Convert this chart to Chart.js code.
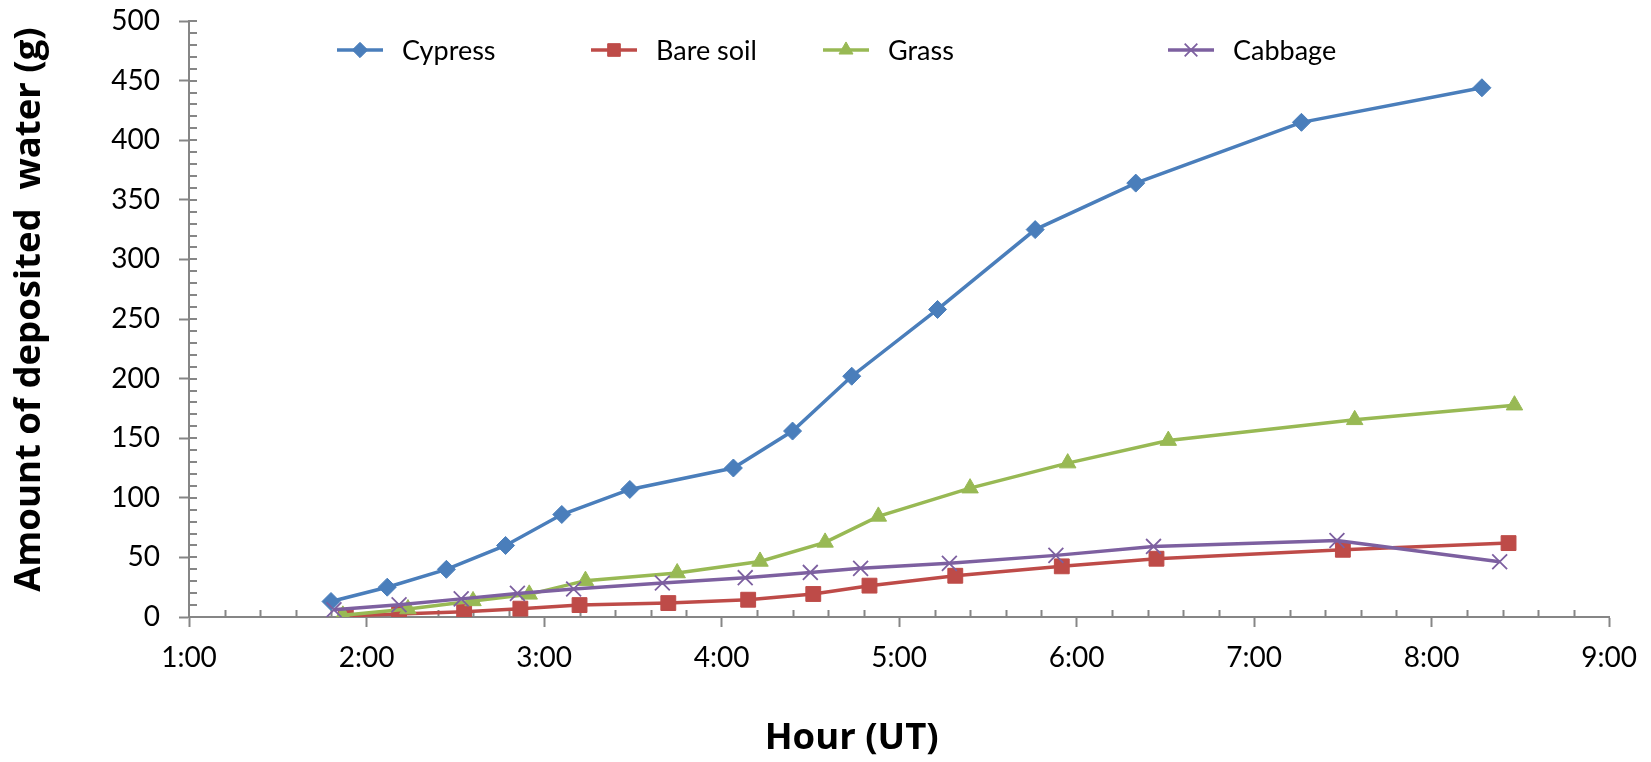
<!DOCTYPE html>
<html>
<head>
<meta charset="utf-8">
<script src="https://cdn.jsdelivr.net/npm/chart.js@4.4.0/dist/chart.umd.min.js"></script>
<style>
  html, body { margin: 0; padding: 0; background: #ffffff; }
</style>
</head>
<body>
<canvas id="grafico" width="1651" height="762"></canvas>
<script>
// datos (hora UT, gramos)
const seriesNames = ["Cypress", "Bare soil", "Grass", "Cabbage"];

const cypressTimes = ["1:48", "2:07", "2:27", "2:47", "3:06", "3:29", "4:04", "4:24", "4:44", "5:13", "5:46", "6:20", "7:16", "8:17"];
const cypressValues = [13, 25, 40, 60, 86, 107, 125, 156, 202, 258, 325, 364, 415, 444];

const bareSoilTimes = ["1:53", "2:11", "2:33", "2:52", "3:12", "3:42", "4:09", "4:31", "4:50", "5:19", "5:55", "6:27", "7:30", "8:26"];
const bareSoilValues = [1, 2.5, 4.5, 7, 10, 11.7, 14.5, 19.3, 26.3, 34.6, 42.5, 48.9, 56.4, 62];

const grassTimes = ["1:52", "2:14", "2:36", "2:55", "3:14", "3:45", "4:13", "4:35", "4:53", "5:24", "5:57", "6:31", "7:34", "8:28"];
const grassValues = [1.4, 6.7, 13.5, 19, 30.5, 36.9, 46.6, 62.6, 84.4, 108.1, 129.1, 148, 165.4, 177.7];

const cabbageTimes = ["1:49", "2:11", "2:32", "2:51", "3:10", "3:40", "4:08", "4:30", "4:47", "5:17", "5:53", "6:26", "7:28", "8:23"];
const cabbageValues = [6.1, 10.3, 15.2, 19.8, 23.5, 28.5, 33, 37.4, 40.8, 45, 51.7, 59.2, 64.2, 46.4];

const hourTicks = [1, 2, 3, 4, 5, 6, 7, 8, 9];
const yTicks = [0, 50, 100, 150, 200, 250, 300, 350, 400, 450, 500];

const gris = "#868686";

function horas(t) {
  const partes = t.split(":").map(Number);
  return partes[0] + partes[1] / 60;
}

function puntos(tiempos, valores) {
  return tiempos.map((t, i) => ({ x: horas(t), y: valores[i] }));
}

const estilos = [
  { color: "#4a7ebb", pointStyle: "rectRot", radius: 9, borderWidth: 1 },
  { color: "#be4b48", pointStyle: "rect", radius: 10.5, borderWidth: 1 },
  { color: "#98b954", pointStyle: "triangle", radius: 9.5, borderWidth: 1 },
  { color: "#7d60a0", pointStyle: "crossRot", radius: 10.5, borderWidth: 1.8 },
];

const todosLosDatos = [
  puntos(cypressTimes, cypressValues),
  puntos(bareSoilTimes, bareSoilValues),
  puntos(grassTimes, grassValues),
  puntos(cabbageTimes, cabbageValues),
];

const datasets = seriesNames.map((nombre, i) => ({
  label: nombre,
  data: todosLosDatos[i],
  showLine: true,
  borderColor: estilos[i].color,
  backgroundColor: estilos[i].color,
  borderWidth: 3.5,
  pointStyle: estilos[i].pointStyle,
  pointRadius: estilos[i].radius,
  pointHoverRadius: estilos[i].radius,
  pointBorderWidth: estilos[i].borderWidth,
  pointBorderColor: estilos[i].color,
  pointBackgroundColor: estilos[i].color,
  order: seriesNames.length - 1 - i,
  tension: 0,
}));

// marcas menores de los ejes (hacia dentro, como en Excel)
const ticksMenores = {
  id: "ticksMenores",
  beforeDatasetsDraw(chart) {
    const ctx = chart.ctx;
    const x = chart.scales.x;
    const y = chart.scales.y;
    ctx.save();
    ctx.strokeStyle = gris;
    ctx.lineWidth = 2;
    ctx.beginPath();
    for (let i = 1; i < 40; i++) {
      if (i % 5 === 0) continue;
      const px = Math.round(x.getPixelForValue(1 + i * 0.2)) + 0.5;
      ctx.moveTo(px, y.bottom);
      ctx.lineTo(px, y.bottom - 7);
    }
    for (let i = 1; i <= 50; i++) {
      const py = Math.round(y.getPixelForValue(i * 10));
      ctx.moveTo(x.left, py);
      ctx.lineTo(x.left + 8, py);
    }
    ctx.stroke();
    ctx.restore();
  },
};

// leyenda dibujada a mano: linea + marcador, en las columnas del original
const leyendaTextoX = [402, 656, 888, 1233];
const leyenda = {
  id: "leyendaExcel",
  afterDraw(chart) {
    const ctx = chart.ctx;
    const yl = 50;
    ctx.save();
    ctx.font = "27px Lato";
    ctx.textBaseline = "middle";
    ctx.textAlign = "left";
    chart.data.datasets.forEach((ds, i) => {
      const tx = leyendaTextoX[i];
      const x1 = tx - 19;
      const x0 = x1 - 46;
      ctx.strokeStyle = ds.borderColor;
      ctx.lineWidth = 3.5;
      ctx.beginPath();
      ctx.moveTo(x0, yl);
      ctx.lineTo(x1, yl);
      ctx.stroke();
      ctx.fillStyle = ds.pointBackgroundColor;
      ctx.strokeStyle = ds.pointBorderColor;
      ctx.lineWidth = ds.pointBorderWidth;
      Chart.helpers.drawPoint(ctx, {
        pointStyle: ds.pointStyle,
        radius: ds.pointRadius * 0.85,
        rotation: 0,
        borderWidth: ds.pointBorderWidth,
      }, (x0 + x1) / 2, yl);
      ctx.fillStyle = "#000000";
      ctx.fillText(ds.label, tx, yl + 1);
    });
    ctx.restore();
  },
};

const grafico = new Chart(document.getElementById("grafico"), {
  type: "scatter",
  data: { datasets: datasets },
  options: {
    responsive: false,
    animation: false,
    layout: { padding: { top: 21, right: 40, left: 0, bottom: 0 } },
    plugins: {
      legend: { display: false },
      tooltip: { enabled: false },
    },
    scales: {
      x: {
        type: "linear",
        min: 1,
        max: 9,
        afterBuildTicks(scale) {
          scale.ticks = hourTicks.map((v) => ({ value: v }));
        },
        afterFit(scale) {
          scale.height = 145;
        },
        ticks: {
          color: "#000000",
          font: { family: "Lato", size: 28 },
          padding: 14,
          maxRotation: 0,
          callback: (v) => v + ":00",
        },
        grid: {
          drawOnChartArea: false,
          drawTicks: true,
          tickLength: 10,
          tickColor: gris,
          tickWidth: 2,
        },
        border: { display: true, color: gris, width: 2 },
        title: {
          display: true,
          text: "Hour (UT)" + "          ",
          color: "#000000",
          font: { family: "Open Sans", size: 36.5, weight: "bold" },
          padding: { top: 0, bottom: 1 },
        },
      },
      y: {
        type: "linear",
        min: 0,
        max: 500,
        afterBuildTicks(scale) {
          scale.ticks = yTicks.map((v) => ({ value: v }));
        },
        afterFit(scale) {
          scale.width = 189;
          scale.paddingTop = 0;
          scale.paddingBottom = 0;
        },
        ticks: {
          color: "#000000",
          font: { family: "Lato", size: 28 },
          padding: 19,
        },
        grid: {
          drawOnChartArea: false,
          drawTicks: true,
          tickLength: 10,
          tickColor: gris,
          tickWidth: 2,
        },
        border: { display: true, color: gris, width: 2 },
        title: {
          display: true,
          text: "  Amount of deposited  water (g)",
          color: "#000000",
          font: { family: "Open Sans", size: 36.5, weight: "bold" },
          padding: { top: 8, bottom: 0 },
        },
      },
    },
  },
  plugins: [ticksMenores, leyenda],
});
</script>
</body>
</html>
